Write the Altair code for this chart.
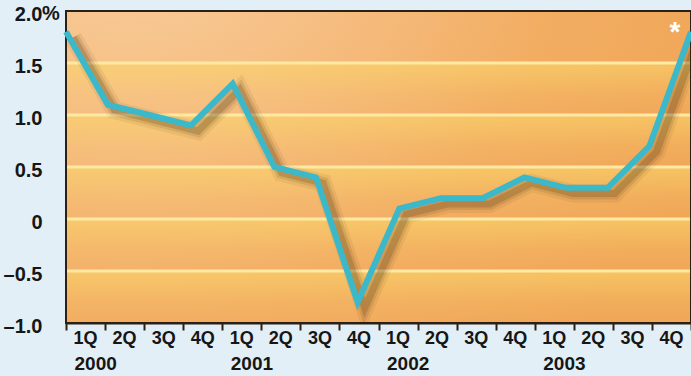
import altair as alt
import pandas as pd

# ---- data ----
quarter_labels = ["1Q", "2Q", "3Q", "4Q"]
years = ["2000", "2001", "2002", "2003"]
growth = [1.8, 1.1, 1.0, 0.9, 1.3, 0.5, 0.4, -0.8, 0.1, 0.2, 0.2, 0.4, 0.3, 0.3, 0.7, 1.8]
y_ticks = [2.0, 1.5, 1.0, 0.5, 0.0, -0.5, -1.0]
grid_values = [1.5, 1.0, 0.5, 0.0, -0.5]

n = len(growth)
df = pd.DataFrame({
    "idx": list(range(n)),
    "quarter": [quarter_labels[i % 4] for i in range(n)],
    "year": [years[i // 4] if i % 4 == 0 else "" for i in range(n)],
    "growth": growth,
})
bands = pd.DataFrame({"top": grid_values, "bottom": [g - 0.5 for g in grid_values]})
grid_df = pd.DataFrame({"g": grid_values})
pct_df = pd.DataFrame({"v": [y_ticks[0]], "t": ["%"]})
one = pd.DataFrame({"a": [0]})

W, H = 625, 312
FONT = "Liberation Sans Narrow, Liberation Sans, Arial Narrow, sans-serif"
INK = "#161616"
LBL_OFF = 3

yscale = alt.Scale(domain=[-1, 2], nice=False, zero=False)
yaxis = alt.Axis(
    values=y_ticks, grid=False, ticks=False, domain=False, title=None,
    labelFont=FONT, labelFontSize=20, labelFontWeight="bold", labelColor=INK,
    labelPadding=24, labelOffset=LBL_OFF,
    labelExpr="datum.value == 2 ? '2.0' : datum.value == 0 ? '0' : (datum.value < 0 ? '\u2013' : '') + format(abs(datum.value), '.1f')",
)
xq_scale = alt.Scale(domain=[0, n - 1], nice=False, zero=False)
xo_scale = alt.Scale(paddingInner=0, paddingOuter=0)

bg = alt.Chart(one).mark_rect(
    color=alt.RadialGradient(
        gradient="radial", x1=0.1, y1=0.05, x2=0.1, y2=0.05, r1=0, r2=1.0,
        stops=[
            alt.GradientStop(offset=0, color="#fad2a6"),
            alt.GradientStop(offset=0.35, color="#f6bf84"),
            alt.GradientStop(offset=0.7, color="#f2ad62"),
            alt.GradientStop(offset=1, color="#f0a658"),
        ],
    )
).encode(x=alt.value(0), x2=alt.value(W), y=alt.value(0), y2=alt.value(H))

band_layer = alt.Chart(bands).mark_rect(
    color=alt.LinearGradient(
        gradient="linear", x1=0, y1=0, x2=0, y2=1,
        stops=[
            alt.GradientStop(offset=0, color="rgba(250,212,105,0.65)"),
            alt.GradientStop(offset=0.6, color="rgba(250,212,105,0.15)"),
            alt.GradientStop(offset=1, color="rgba(250,212,105,0)"),
        ],
    )
).encode(
    x=alt.value(0), x2=alt.value(W),
    y=alt.Y("top:Q", scale=yscale, axis=yaxis), y2="bottom:Q",
)

grid_layer = alt.Chart(grid_df).mark_rule(color="#fde9a4", strokeWidth=3).encode(
    y=alt.Y("g:Q", scale=yscale, axis=yaxis)
)

frame = alt.Chart(one).mark_rect(fillOpacity=0, stroke="#2a2016", strokeWidth=2).encode(
    x=alt.value(0), x2=alt.value(W), y=alt.value(0), y2=alt.value(H)
)

shadow_base = alt.Chart(df).transform_calculate(
    sx="datum.idx + 0.17", sy="datum.growth - 0.055"
)
shadows = [
    shadow_base.mark_line(color="#4a3010", opacity=op, strokeWidth=sw, clip=True).encode(
        x=alt.X("sx:Q", scale=xq_scale, axis=None),
        y=alt.Y("sy:Q", scale=yscale, axis=yaxis),
    )
    for sw, op in [(18, 0.07), (12, 0.12), (7, 0.2)]
]

line = alt.Chart(df).mark_line(color="#3bb8ca", strokeWidth=6, strokeJoin="miter").encode(
    x=alt.X("idx:Q", scale=xq_scale, axis=None),
    y=alt.Y("growth:Q", scale=yscale, axis=yaxis),
)

star = alt.Chart(df).transform_filter("datum.idx == %d" % (n - 1)).mark_text(
    text="*", color="white", fontSize=28, fontWeight="bold", font=FONT,
    align="center", baseline="middle", dx=-16, dy=1,
).encode(
    x=alt.X("idx:Q", scale=xq_scale, axis=None),
    y=alt.Y("growth:Q", scale=yscale, axis=yaxis),
)

pct = alt.Chart(pct_df).mark_text(
    font=FONT, fontSize=20, fontWeight="bold", color=INK,
    align="left", baseline="middle", dy=LBL_OFF,
).encode(
    x=alt.value(-24),
    y=alt.Y("v:Q", scale=yscale, axis=yaxis),
    text="t:N",
)

# x axis: ticks at band edges, no axis labels (labels drawn as text below)
year_layer = alt.Chart(df).mark_text(
    font=FONT, fontSize=19, fontWeight="bold", color=INK,
    align="left", baseline="middle", dx=-11,
).encode(
    x=alt.X(
        "idx:O",
        scale=xo_scale,
        axis=alt.Axis(
            title=None, labels=False, tickBand="extent",
            tickSize=7, tickWidth=2, tickColor="#2a2016",
            domainColor="#2a2016", domainWidth=2, grid=False,
        ),
    ),
    y=alt.value(H + 41),
    text="year:N",
)

quarter_layer = alt.Chart(df).mark_text(
    font=FONT, fontSize=18, fontWeight="bold", color=INK,
    align="center", baseline="middle",
).encode(
    x=alt.X("idx:O", scale=xo_scale, axis=None),
    y=alt.value(H + 16),
    text="quarter:N",
)

chart = alt.layer(
    bg, band_layer, grid_layer, frame, *shadows, line, star, pct, year_layer, quarter_layer
).resolve_scale(x="independent").properties(
    width=W, height=H,
    autosize=alt.AutoSizeParams(type="none"),
    padding={"left": 66, "top": 11, "right": 0, "bottom": 53},
    background="#e3eff6",
).configure_view(strokeWidth=0)

chart.save("out.html", embed_options={"renderer": "svg", "actions": False})
